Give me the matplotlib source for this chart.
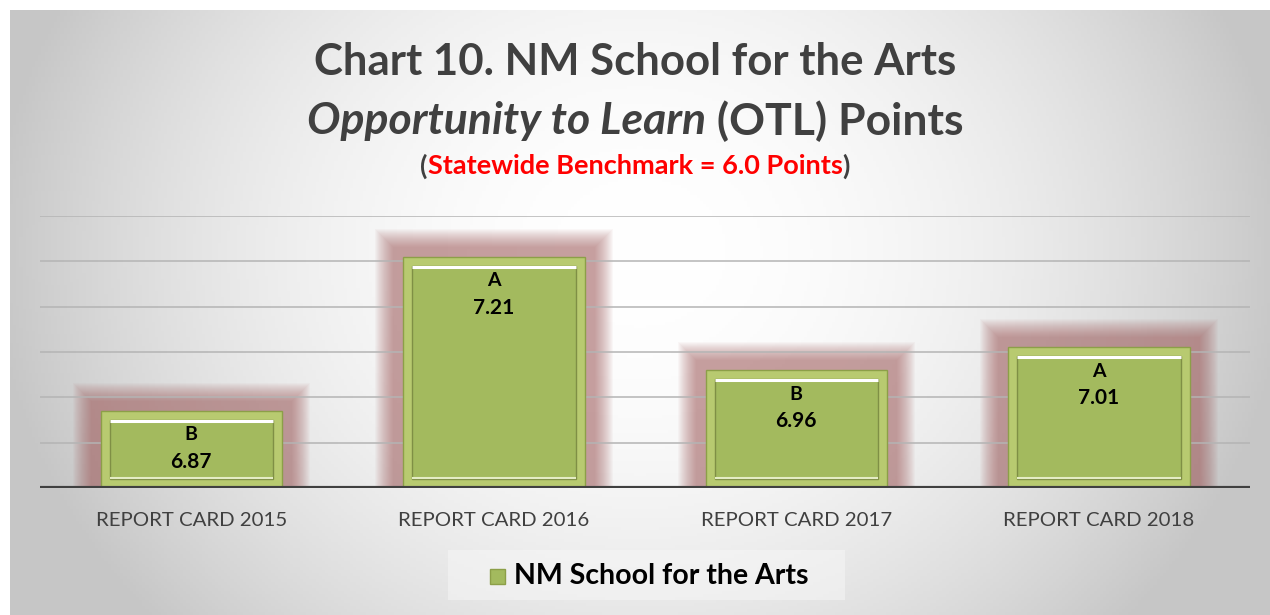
import numpy as np
import matplotlib.pyplot as plt
from matplotlib.patches import Rectangle, FancyBboxPatch

# Data
categories = ['REPORT CARD 2015', 'REPORT CARD 2016', 'REPORT CARD 2017', 'REPORT CARD 2018']
points = [6.87, 7.21, 6.96, 7.01]
grades = ['B', 'A', 'B', 'A']
series_name = 'NM School for the Arts'

plt.rcParams['font.family'] = ['Lato', 'DejaVu Sans']

fig = plt.figure(figsize=(12.7, 6.15), dpi=100)
fig.patch.set_facecolor('white')

# Radial gradient panel background
bg = fig.add_axes([10 / 1270, 0, 1 - 10 / 1270, 1 - 10 / 615], zorder=-10)
xx, yy = np.meshgrid(np.linspace(-1, 1, 400), np.linspace(-1, 1, 200))
r2 = (xx / 1.0) ** 2 + ((yy + 0.2) / 1.8) ** 2
shade = np.clip(1.0 - 0.21 * r2, 0.78, 1.0)
bg.imshow(np.dstack([shade] * 3), aspect='auto', extent=[0, 1, 0, 1], origin='upper')
bg.axis('off')

ax = fig.add_axes([40 / 1270, (615 - 488) / 615, 1210 / 1270, 272 / 615])
ax.set_facecolor('none')
x = np.arange(len(categories))
ax.set_xlim(-0.5, len(categories) - 0.5)
ax.set_ylim(6.7, 7.3)

for yv in np.arange(6.8, 7.31, 0.1):
    ax.axhline(yv, color='#b4b4b4', linewidth=1.1, zorder=1.5)

bar_w = 0.6
ux = 1 / 302.5   # one pixel in x data units
uy = 0.6 / 272   # one pixel in y data units

for xi, v in zip(x, points):
    left = xi - bar_w / 2
    h = v - 6.7
    # soft red glow: flat core, fading edge
    for g in range(28, 9, -1):
        ax.add_patch(Rectangle((left - g * ux, 6.7), bar_w + 2 * g * ux, h + g * uy,
                               facecolor='#a05858', edgecolor='none', alpha=0.04, zorder=1))
    # outer bevel
    ax.add_patch(Rectangle((left, 6.7), bar_w, h, facecolor='#b8ca70',
                           edgecolor='#8c9f48', linewidth=1.0, zorder=2))
    # inner face
    ix, iy = 9 * ux, 9 * uy
    ax.add_patch(Rectangle((left + ix, 6.7 + iy), bar_w - 2 * ix, h - 2 * iy,
                           facecolor='#a3ba5e', edgecolor='#7f8f45', linewidth=1.0, zorder=3))
    ax.plot([left + ix, left + bar_w - ix], [v - iy - uy, v - iy - uy],
            color='white', linewidth=2.2, zorder=4, solid_capstyle='butt')
    ax.plot([left + ix, left + bar_w - ix], [6.7 + iy + uy, 6.7 + iy + uy],
            color='#e4ecc4', linewidth=1.5, zorder=4, solid_capstyle='butt')

for xi, v, gr in zip(x, points, grades):
    ax.annotate(gr, (xi, v), xytext=(0, -24), textcoords='offset pixels',
                ha='center', va='center', fontsize=14, fontweight='bold', color='black', zorder=5)
    ax.annotate(f'{v:.2f}', (xi, v), xytext=(0, -51), textcoords='offset pixels',
                ha='center', va='center', fontsize=15, fontweight='bold', color='black', zorder=5)

ax.axhline(6.7, color='#404040', linewidth=3, zorder=6)
for s in ax.spines.values():
    s.set_visible(False)
ax.set_yticks([])
ax.set_xticks(x)
ax.set_xticklabels(categories, fontsize=14.7, color='#404040')
ax.tick_params(axis='x', length=0, pad=17)


def draw_pieces(y, pieces, size):
    # draw several styled text pieces side by side, centred on the figure
    renderer = fig.canvas.get_renderer()
    texts = []
    for s, color, style in pieces:
        t = fig.text(0, y, s, fontsize=size, fontweight='bold', color=color,
                     fontstyle=style, ha='left', va='center')
        texts.append(t)
    widths = [t.get_window_extent(renderer).width for t in texts]
    total = sum(widths)
    xpos = (1270 - total) / 2
    for t, w in zip(texts, widths):
        t.set_x(xpos / 1270)
        xpos += w


fig.text(0.5, 1 - 62 / 615, 'Chart 10. NM School for the Arts', ha='center', va='center',
         fontsize=31.5, fontweight='bold', color='#404040')
draw_pieces(1 - 121 / 615, [('Opportunity to Learn', '#404040', 'italic'),
                           (' (OTL) Points', '#404040', 'normal')], 32)
draw_pieces(1 - 166 / 615, [('(', '#404040', 'normal'),
                           ('Statewide Benchmark = 6.0 Points', '#ff0000', 'normal'),
                           (')', '#404040', 'normal')], 19.5)

# Legend
lg = fig.add_axes([448 / 1270, (615 - 600) / 615, 397 / 1270, 50 / 615], zorder=-5)
lg.set_facecolor('#f7f7f7')
lg.patch.set_alpha(0.5)
lg.set_xticks([])
lg.set_yticks([])
for s in lg.spines.values():
    s.set_visible(False)
lg.set_xlim(0, 397)
lg.set_ylim(0, 50)
lg.add_patch(Rectangle((42, 16), 15, 15, facecolor='#a3ba5e', edgecolor='#8c9f48', linewidth=1))
lg.text(66, 24, series_name, ha='left', va='center', fontsize=20.5, fontweight='bold', color='black')

fig.savefig('out.png', dpi=100)
